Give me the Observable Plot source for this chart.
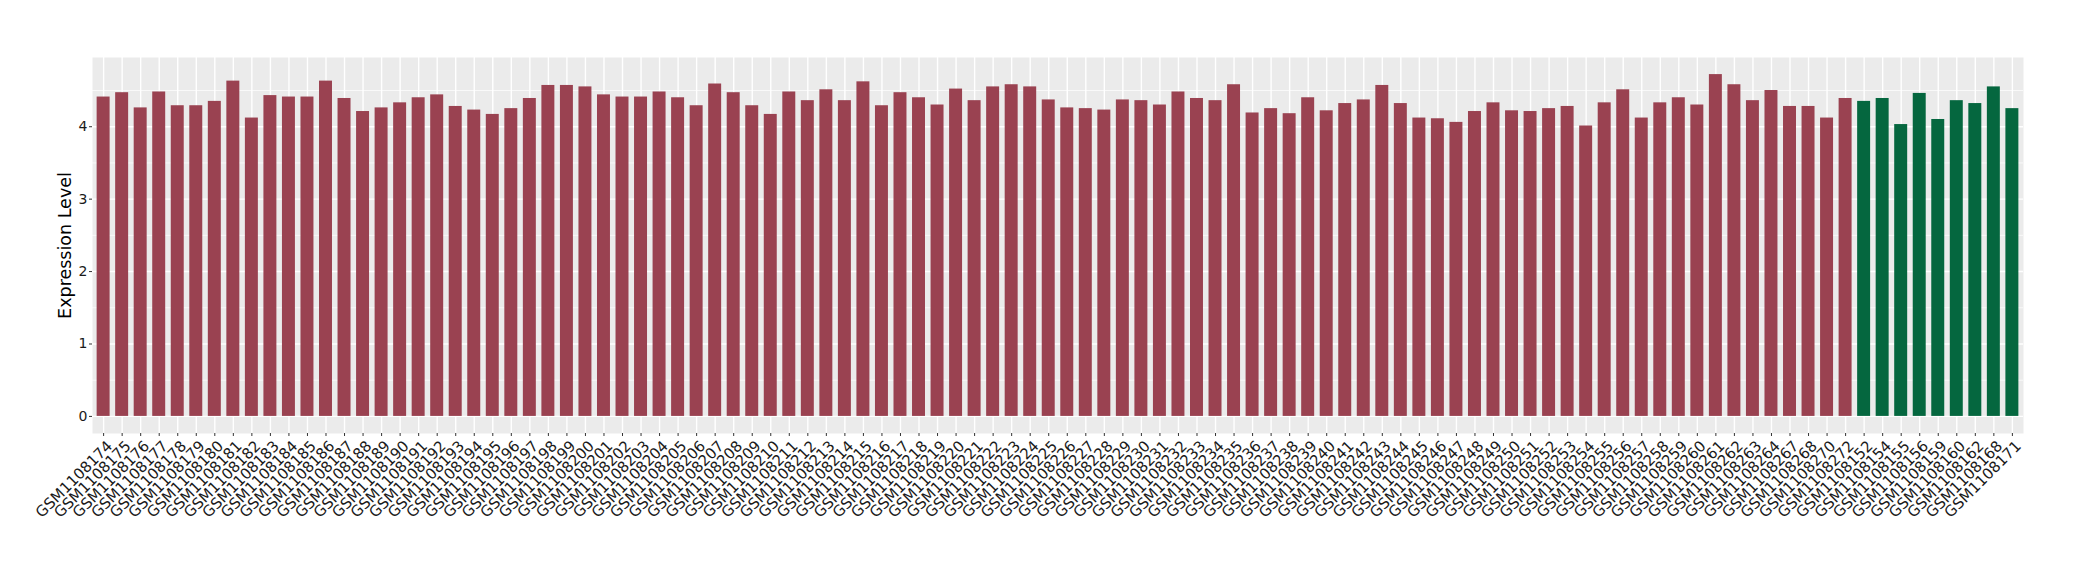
<!DOCTYPE html>
<html>
<head>
<meta charset="utf-8">
<script src="https://cdn.jsdelivr.net/npm/d3@7"></script>
<script src="https://cdn.jsdelivr.net/npm/@observablehq/plot@0.6"></script>
<style>
  html, body { margin: 0; padding: 0; background: #ffffff; }
  #chart svg { display: block; }
</style>
</head>
<body>
<div id="chart"></div>
<script>
// Group 1 (red) samples
const redSamples = [
  "GSM1108174","GSM1108175","GSM1108176","GSM1108177","GSM1108178","GSM1108179","GSM1108180","GSM1108181",
  "GSM1108182","GSM1108183","GSM1108184","GSM1108185","GSM1108186","GSM1108187","GSM1108188","GSM1108189",
  "GSM1108190","GSM1108191","GSM1108192","GSM1108193","GSM1108194","GSM1108195","GSM1108196","GSM1108197",
  "GSM1108198","GSM1108199","GSM1108200","GSM1108201","GSM1108202","GSM1108203","GSM1108204","GSM1108205",
  "GSM1108206","GSM1108207","GSM1108208","GSM1108209","GSM1108210","GSM1108211","GSM1108212","GSM1108213",
  "GSM1108214","GSM1108215","GSM1108216","GSM1108217","GSM1108218","GSM1108219","GSM1108220","GSM1108221",
  "GSM1108222","GSM1108223","GSM1108224","GSM1108225","GSM1108226","GSM1108227","GSM1108228","GSM1108229",
  "GSM1108230","GSM1108231","GSM1108232","GSM1108233","GSM1108234","GSM1108235","GSM1108236","GSM1108237",
  "GSM1108238","GSM1108239","GSM1108240","GSM1108241","GSM1108242","GSM1108243","GSM1108244","GSM1108245",
  "GSM1108246","GSM1108247","GSM1108248","GSM1108249","GSM1108250","GSM1108251","GSM1108252","GSM1108253",
  "GSM1108254","GSM1108255","GSM1108256","GSM1108257","GSM1108258","GSM1108259","GSM1108260","GSM1108261",
  "GSM1108262","GSM1108263","GSM1108264","GSM1108267","GSM1108268","GSM1108270","GSM1108272"
];
const redValues = [
  4.41, 4.47, 4.26, 4.48, 4.29, 4.29, 4.35, 4.63,
  4.12, 4.43, 4.41, 4.41, 4.63, 4.39, 4.21, 4.26,
  4.33, 4.40, 4.44, 4.28, 4.23, 4.17, 4.25, 4.39,
  4.57, 4.57, 4.55, 4.44, 4.41, 4.41, 4.48, 4.40,
  4.29, 4.59, 4.47, 4.29, 4.17, 4.48, 4.36, 4.51,
  4.36, 4.62, 4.29, 4.47, 4.40, 4.30, 4.52, 4.36,
  4.55, 4.58, 4.55, 4.37, 4.26, 4.25, 4.23, 4.37,
  4.36, 4.30, 4.48, 4.39, 4.36, 4.58, 4.19, 4.25,
  4.18, 4.40, 4.22, 4.32, 4.37, 4.57, 4.32, 4.12,
  4.11, 4.06, 4.21, 4.33, 4.22, 4.21, 4.25, 4.28,
  4.01, 4.33, 4.51, 4.12, 4.33, 4.40, 4.30, 4.72,
  4.58, 4.36, 4.50, 4.28, 4.28, 4.12, 4.39
];
// Group 2 (green) samples
const greenSamples = [
  "GSM1108152","GSM1108154","GSM1108155","GSM1108156","GSM1108159",
  "GSM1108160","GSM1108162","GSM1108168","GSM1108171"
];
const greenValues = [4.35, 4.39, 4.03, 4.46, 4.10, 4.36, 4.32, 4.55, 4.25];

const yTicks = [0, 1, 2, 3, 4];
const yMinorTicks = [0.5, 1.5, 2.5, 3.5, 4.5];
const groupNames = ["group1", "group2"];
const groupColors = ["#9A4251", "#05673F"];
const yTitle = "Expression Level";

const data = [
  ...redSamples.map((s, i) => ({sample: s, value: redValues[i], group: groupNames[0]})),
  ...greenSamples.map((s, i) => ({sample: s, value: greenValues[i], group: groupNames[1]}))
];
const samples = data.map(d => d.sample);
const ymax = d3.max(data, d => d.value);

const W = 2080, ML = 92, MR = 57;
const halfBand = 0.35 * (W - ML - MR) / (samples.length + 0.2);

const chart = Plot.plot({
  width: W,
  height: 580,
  marginLeft: ML,
  marginRight: MR,
  marginTop: 57,
  marginBottom: 147,
  style: {fontFamily: "'DejaVu Sans', sans-serif", background: "#ffffff", overflow: "visible", color: "#1a1a1a"},
  x: {type: "band", domain: samples, paddingInner: 0.3, paddingOuter: 0.25, label: null},
  y: {domain: [-0.05 * ymax, 1.05 * ymax], label: null},
  color: {domain: groupNames, range: groupColors},
  marks: [
    Plot.frame({fill: "#EBEBEB", stroke: "none"}),
    Plot.gridY(yMinorTicks, {stroke: "#ffffff", strokeOpacity: 1, strokeWidth: 0.7}),
    Plot.gridY(yTicks, {stroke: "#ffffff", strokeOpacity: 1, strokeWidth: 1.4}),
    Plot.gridX({stroke: "#ffffff", strokeOpacity: 1, strokeWidth: 1.4}),
    Plot.barY(data, {x: "sample", y: "value", fill: "group"}),
    Plot.axisY(yTicks, {tickSize: 3, text: null, stroke: "#333333", label: null}),
    Plot.text(yTicks, {y: d => d, text: d => String(d), frameAnchor: "left", textAnchor: "end", dx: -5, fontSize: 14, fill: "#1a1a1a"}),
    Plot.axisX({tickSize: 3, text: null, stroke: "#333333", label: null}),
    Plot.text(samples, {x: d => d, text: d => d, frameAnchor: "bottom", rotate: -45, textAnchor: "end", lineAnchor: "top", dx: halfBand - 4.5, dy: 6, fontSize: 15, fill: "#1a1a1a"}),
    Plot.text([yTitle], {frameAnchor: "left", textAnchor: "middle", rotate: -90, dx: -27, fontSize: 17.5, fill: "#000000"})
  ]
});
document.getElementById("chart").appendChild(chart);
</script>
</body>
</html>
